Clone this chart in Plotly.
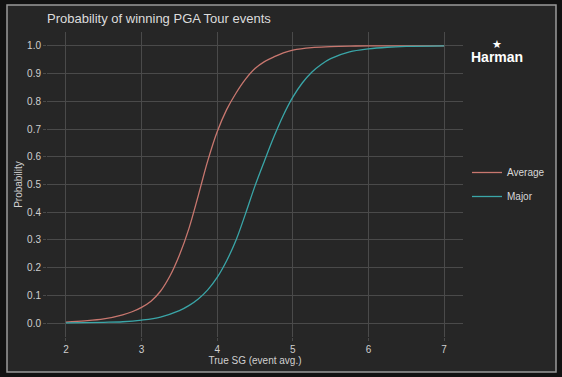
import plotly.graph_objects as go

sg_average = [2.0, 2.25, 2.5, 2.75, 2.875, 3.0, 3.125, 3.25, 3.375, 3.5, 3.625, 3.75,
              3.875, 4.0, 4.125, 4.25, 4.375, 4.5, 4.625, 4.75, 4.875, 5.0, 5.25,
              5.5, 5.75, 6.0, 6.5, 7.0]
p_average = [0.004, 0.008, 0.015, 0.03, 0.041, 0.057, 0.079, 0.115, 0.17, 0.245, 0.34, 0.46,
             0.585, 0.69, 0.77, 0.83, 0.88, 0.918, 0.943, 0.96, 0.975, 0.985, 0.994,
             0.997, 0.999, 1.0, 1.0, 1.0]
sg_major = [2.0, 2.5, 2.75, 3.0, 3.25, 3.5, 3.625, 3.75, 3.875, 4.0, 4.125, 4.25, 4.375,
            4.5, 4.625, 4.75, 4.875, 5.0, 5.125, 5.25, 5.375, 5.5, 5.75, 6.0, 6.25,
            6.5, 7.0]
p_major = [0.001, 0.003, 0.005, 0.011, 0.022, 0.045, 0.063, 0.087, 0.12, 0.165, 0.225, 0.30,
           0.395, 0.495, 0.585, 0.672, 0.75, 0.815, 0.866, 0.905, 0.933, 0.954, 0.978,
           0.989, 0.995, 0.998, 1.0]
x_ticks = [2, 3, 4, 5, 6, 7]
y_ticks = [0.0, 0.1, 0.2, 0.3, 0.4, 0.5, 0.6, 0.7, 0.8, 0.9, 1.0]

FONT = "Liberation Sans, Arial, sans-serif"
W, H = 562, 377
L, R, T, B = 47, 463, 32, 337
PW, PH = R - L, B - T

fig = go.Figure()
fig.add_trace(go.Scatter(x=sg_average, y=p_average, mode="lines", name="Average", legendgroup="a",
                         line=dict(color="#c8776f", width=1.3, shape="spline", smoothing=1.0)))
fig.add_trace(go.Scatter(x=sg_major, y=p_major, mode="lines", name="Major", legendgroup="b",
                         line=dict(color="#3aa6a8", width=1.3, shape="spline", smoothing=1.0)))

# panel background and border
fig.add_shape(type="rect", xref="paper", yref="paper",
              x0=(7 - L) / PW, x1=(556 - L) / PW,
              y0=(B - 372) / PH, y1=(B - 5) / PH,
              fillcolor="#262626", line=dict(color="#9a9a9a", width=1.5), layer="below")

fig.update_layout(
    width=W, height=H,
    margin=dict(l=L, r=W - R, t=T, b=H - B, autoexpand=False),
    paper_bgcolor="#121212", plot_bgcolor="rgba(0,0,0,0)",
    font=dict(family=FONT, color="#d0d0d0", size=10),
    title=dict(text="Probability of winning PGA Tour events", x=47 / W, xanchor="left",
               y=1 - 18 / H, yanchor="middle", font=dict(size=13, color="#dcdcdc")),
    showlegend=True,
    legend=dict(x=(467 - L) / PW, y=0.5, xanchor="left", yanchor="middle", bgcolor="rgba(0,0,0,0)",
                font=dict(size=10, color="#d8d8d8"), tracegroupgap=5, itemwidth=30),
)
fig.update_xaxes(range=[1.75, 7.25], tickvals=x_ticks, showgrid=True, gridcolor="#4a4a4a",
                 gridwidth=1, zeroline=False, showline=False, ticks="outside", ticklen=3,
                 tickcolor="#4a4a4a", tickfont=dict(size=10, color="#cfcfcf"), automargin=False,
                 title=dict(text="True SG (event avg.)", font=dict(size=10, color="#d0d0d0"), standoff=2))
fig.update_yaxes(range=[-0.05, 1.05], tickvals=y_ticks, tickformat=".1f", showgrid=True,
                 gridcolor="#4a4a4a", gridwidth=1, zeroline=False, showline=False,
                 ticks="outside", ticklen=3, tickcolor="#4a4a4a", automargin=False,
                 tickfont=dict(size=10, color="#cfcfcf"),
                 title=dict(text="Probability", font=dict(size=10, color="#d0d0d0"), standoff=2))

fig.add_annotation(text="★", xref="paper", yref="paper", x=(497 - L) / PW, y=(B - 44) / PH,
                   showarrow=False, font=dict(size=11, color="#ffffff"), xanchor="center", yanchor="middle")
fig.add_annotation(text="<b>Harman</b>", xref="paper", yref="paper", x=(497 - L) / PW, y=(B - 57) / PH,
                   showarrow=False, xanchor="center", yanchor="middle",
                   font=dict(size=14, color="#ffffff", family="Liberation Sans, Arial, sans-serif"))

fig.write_html("out.html", config={"displayModeBar": False},
               post_script="document.body.style.margin='0';document.body.style.background='#121212';")
